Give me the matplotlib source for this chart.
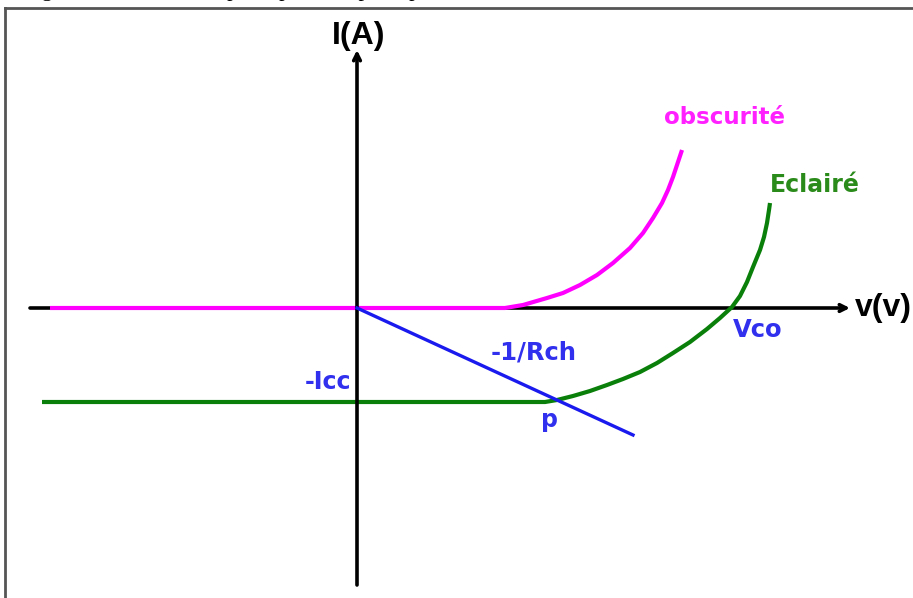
import matplotlib.pyplot as plt
from matplotlib.lines import Line2D

# Dark characteristic (obscurite), V / I in arbitrary units
v_dark = [-3.07, 1.48, 1.66, 1.90, 2.06, 2.23, 2.40, 2.56, 2.73, 2.86, 2.96, 3.05, 3.11, 3.16, 3.21, 3.25]
i_dark = [0.00, 0.00, 0.03, 0.10, 0.15, 0.23, 0.33, 0.45, 0.60, 0.75, 0.90, 1.05, 1.18, 1.31, 1.46, 1.58]

# Illuminated characteristic (eclaire)
v_light = [-3.15, 1.88, 2.00, 2.16, 2.33, 2.50, 2.66, 2.83, 3.00, 3.16, 3.33, 3.50, 3.63, 3.75,
           3.83, 3.90, 3.96, 4.03, 4.07, 4.10, 4.12, 4.13]
i_light = [-0.94, -0.94, -0.92, -0.88, -0.83, -0.77, -0.71, -0.64, -0.55, -0.45, -0.34, -0.21, -0.10, 0.01,
           0.12, 0.26, 0.41, 0.58, 0.71, 0.85, 0.98, 1.05]

# Load line -1/Rch
v_load = [0.0, 2.76]
i_load = [0.0, -1.27]

fig = plt.figure(figsize=(9.13, 5.98), dpi=100)
ax = fig.add_axes([0, 0, 1, 1])
ax.set_xlim(-3.57, 5.56)
ax.set_ylim(-2.90, 3.08)
ax.axis('off')

# page frame + cut caption above it
fig.add_artist(Line2D([0.006, 1.0], [0.987, 0.987], color='#555555', lw=2, transform=fig.transFigure))
fig.add_artist(Line2D([0.006, 0.006], [0.0, 0.987], color='#555555', lw=2, transform=fig.transFigure))
fig.text(0.025, 1.006, "Figure I.4 : Courbe du principe d'une photopile éclairée      [12]",
         family='Liberation Serif', fontsize=16, va='baseline', ha='left')

# axes with arrows (x axis under the dark curve, y axis over the lit one)
ax.annotate('', xy=(4.93, 0), xytext=(-3.27, 0), zorder=1,
            arrowprops=dict(arrowstyle='->', color='black', lw=2.6, mutation_scale=12, shrinkA=0, shrinkB=0))
ax.plot(v_dark, i_dark, color='#ff00ff', lw=3, solid_capstyle='butt', zorder=2)
ax.plot(v_light, i_light, color='#0a800a', lw=3, solid_capstyle='butt', zorder=2)
ax.annotate('', xy=(0, 2.58), xytext=(0, -2.77), zorder=3,
            arrowprops=dict(arrowstyle='->', color='black', lw=2.6, mutation_scale=12, shrinkA=0, shrinkB=0))
ax.plot(v_load, i_load, color='#1a1aee', lw=2.4, zorder=4)

bold = dict(fontweight='bold')
ax.text(0.02, 2.72, 'I(A)', family='Liberation Sans', fontsize=23, ha='center', va='center', **bold)
ax.text(4.98, 0.0, 'v(v)', family='Liberation Sans', fontsize=23, ha='left', va='center', **bold)
ax.text(3.67, 1.90, 'obscurité', color='#ff22ff', fontsize=16.5, ha='center', va='center', **bold)
ax.text(4.58, 1.23, 'Eclairé', color='#2a8a1a', fontsize=17, ha='center', va='center', **bold)
ax.text(4.01, -0.22, 'Vco', color='#3030ee', fontsize=17.5, ha='center', va='center', **bold)
ax.text(1.77, -0.44, '-1/Rch', color='#3030ee', fontsize=17.5, ha='center', va='center', **bold)
ax.text(-0.29, -0.74, '-Icc', color='#3030ee', fontsize=17, ha='center', va='center', **bold)
ax.text(1.92, -1.12, 'p', color='#3030ee', fontsize=17, ha='center', va='center', **bold)

fig.savefig('out.png', dpi=100)
